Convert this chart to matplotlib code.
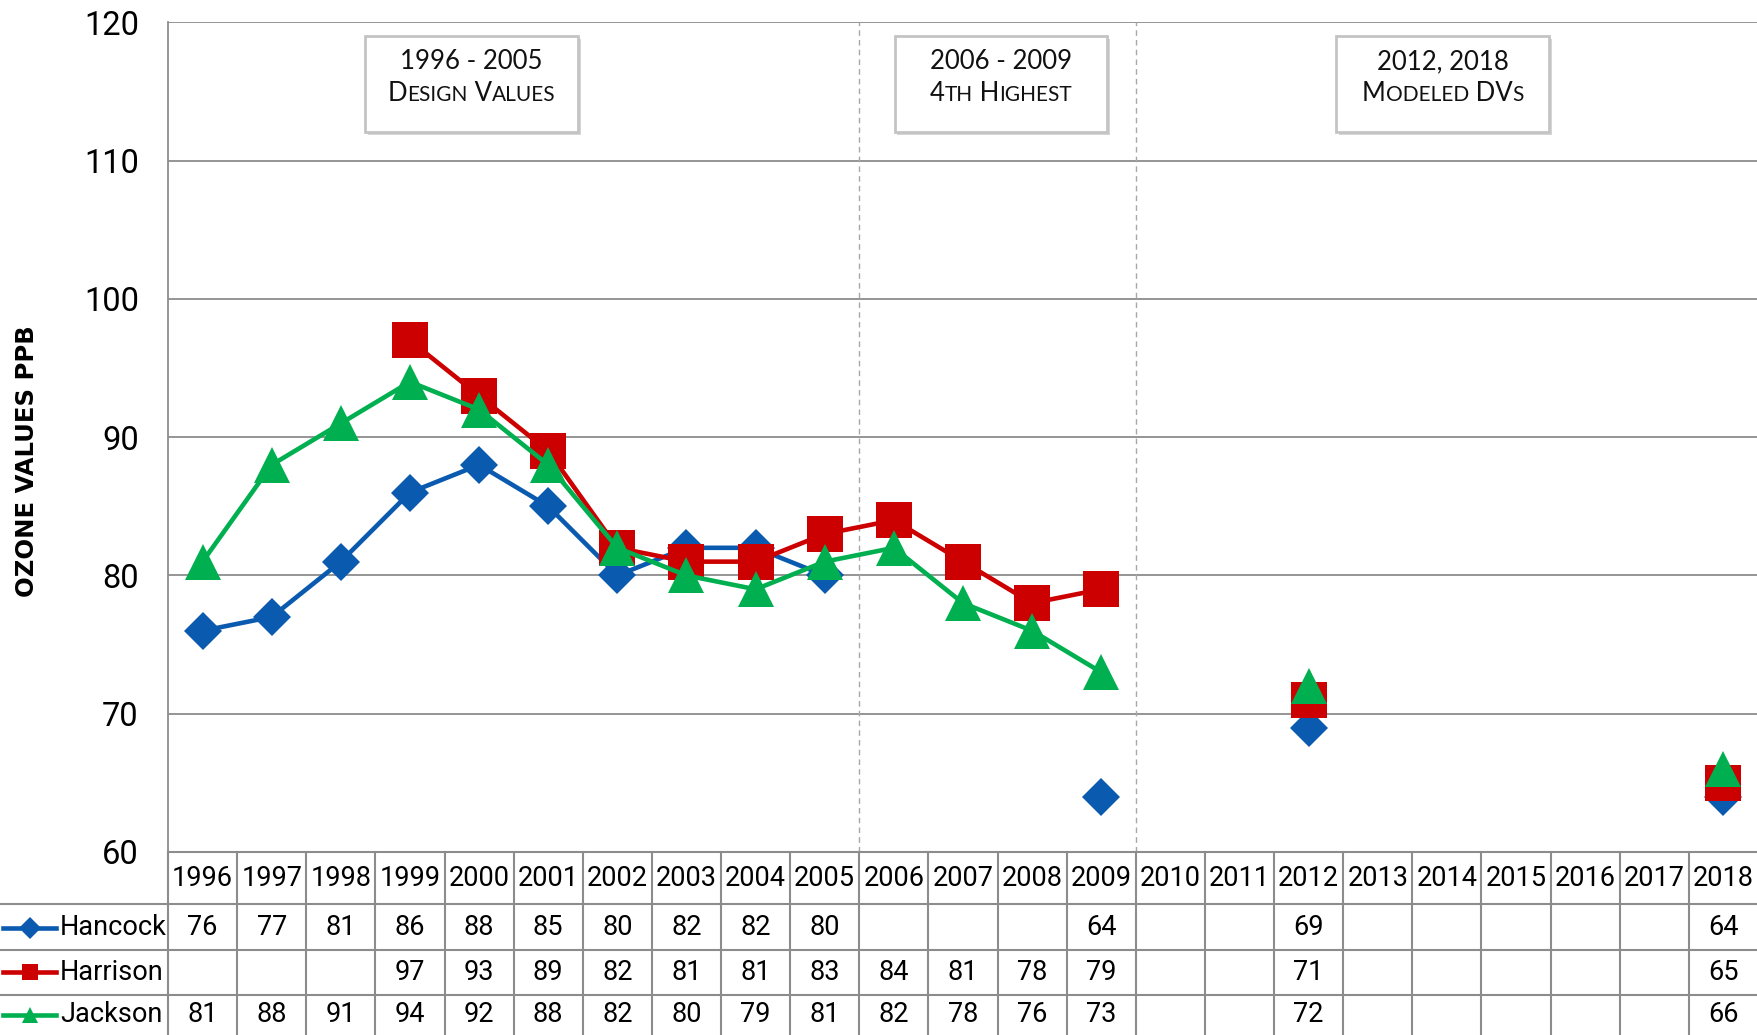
import numpy as np
import matplotlib
matplotlib.use("Agg")
import matplotlib.pyplot as plt
from matplotlib.patches import Rectangle
from matplotlib.offsetbox import TextArea, HPacker, VPacker, AnnotationBbox
from matplotlib import patheffects as pe
from matplotlib.lines import Line2D

nan = np.nan
years = list(range(1996, 2019))
hancock = [76, 77, 81, 86, 88, 85, 80, 82, 82, 80, nan, nan, nan, 64, nan, nan, 69, nan, nan, nan, nan, nan, 64]
harrison = [nan, nan, nan, 97, 93, 89, 82, 81, 81, 83, 84, 81, 78, 79, nan, nan, 71, nan, nan, nan, nan, nan, 65]
jackson = [81, 88, 91, 94, 92, 88, 82, 80, 79, 81, 82, 78, 76, 73, nan, nan, 72, nan, nan, nan, nan, nan, 66]
series_names = ["Hancock", "Harrison", "Jackson"]
yticks = [60, 70, 80, 90, 100, 110, 120]
period_breaks = [2005.5, 2009.5]
box_titles = [("1996 - 2005", [("D", 1), ("ESIGN", 0), (" V", 1), ("ALUES", 0)], 1999.89),
              ("2006 - 2009", [("4", 1), ("TH", 0), (" H", 1), ("IGHEST", 0)], 2007.55),
              ("2012, 2018", [("M", 1), ("ODELED", 0), (" DV", 1), ("S", 0)], 2013.94)]

colors = ["#0A5BB0", "#CC0000", "#00B050"]
markers = ["D", "s", "^"]
msizes = [19.5, 25.5, 26.5]

W, H = 1758, 1035
fig = plt.figure(figsize=(W / 100, H / 100), dpi=100)
left_px, top_px, tab_top = 168, 22.4, 852
ax = fig.add_axes([left_px / W, (H - tab_top) / H, (W - left_px) / W, (tab_top - top_px) / H])
ax.set_xlim(years[0] - 0.5, years[-1] + 0.5)
ax.set_ylim(60, 120)
ax.set_yticks(yticks)
ax.set_xticks([])
grid_c = "#8C8C8C"
for yv in yticks:
    ax.axhline(yv, color=grid_c, lw=1.3, zorder=1)
for s in ["top", "right", "bottom"]:
    ax.spines[s].set_visible(False)
ax.spines["left"].set_color(grid_c)
ax.spines["left"].set_linewidth(1.3)
ax.tick_params(axis="y", length=0, pad=21, labelsize=23.5)
for lab in ax.get_yticklabels():
    lab.set_fontfamily(["Roboto", "DejaVu Sans"])
for xb in period_breaks:
    ax.axvline(xb, color="#A8A8A8", lw=1.0, ls=(0, (4, 3)), zorder=1)

data = [hancock, harrison, jackson]
for vals, c, m, ms, name in zip(data, colors, markers, msizes, series_names):
    ax.plot(years, vals, color=c, lw=3.3, marker=m, markersize=ms, markeredgewidth=0,
            zorder=3, label=name, clip_on=False)

# Annotation boxes
for title, pieces, xc in box_titles:
    rect = Rectangle((xc - 3.08 / 2, 115.54 - 6.97 / 2), 3.08, 6.97, facecolor="white",
                     edgecolor="#C4C4C4", lw=2, zorder=4)
    rect.set_path_effects([pe.SimplePatchShadow(offset=(2, -2), shadow_rgbFace="#888888", alpha=0.35), pe.Normal()])
    ax.add_patch(rect)
    fam = ["Lato", "DejaVu Sans"]
    t1 = TextArea(title, textprops=dict(fontsize=18.5, family=fam, color="#111111"))
    parts = [TextArea(txt, textprops=dict(fontsize=18.5 if big else 15, family=fam, color="#111111"))
             for txt, big in pieces]
    hp = HPacker(children=parts, align="baseline", pad=0, sep=0)
    vp = VPacker(children=[t1, hp], align="center", pad=0, sep=5)
    ab = AnnotationBbox(vp, (xc, 116.0), xycoords="data", frameon=False, box_alignment=(0.5, 0.5), zorder=5)
    ax.add_artist(ab)

fig.text(27 / W, 1 - 461 / H, "OZONE VALUES PPB", rotation=90, ha="center", va="center",
         fontsize=17.5, fontweight="bold", family=["DejaVu Sans"])

# Data table
axt = fig.add_axes([left_px / W, 0, (W - left_px) / W, (H - tab_top) / H])
axt.set_xlim(years[0] - 0.5, years[-1] + 0.5)
tab_h = H - tab_top
axt.set_ylim(tab_h, 0)
axt.axis("off")
row_edges = [0, 52, 98, 142.5]
row_centers = [27, 75.5, 120, 163]
lfrac = -left_px / (W - left_px)
tc = "#8C8C8C"
for i, ye in enumerate(row_edges):
    x0 = 0 if i == 0 else lfrac
    axt.plot([x0, 1], [ye, ye], color=tc, lw=1.5, transform=axt.get_yaxis_transform(), clip_on=False)
for k in range(len(years) + 1):
    xv = years[0] - 0.5 + k
    axt.plot([xv, xv], [0, tab_h], color=tc, lw=1.5, clip_on=False)
tfam = ["Roboto", "DejaVu Sans"]
for yr in years:
    axt.text(yr, row_centers[0], str(yr), ha="center", va="center", fontsize=19.5, family=tfam)
for r, (vals, c, m, name) in enumerate(zip(data, colors, markers, series_names)):
    yc = row_centers[r + 1]
    for yr, v in zip(years, vals):
        if not np.isnan(v):
            axt.text(yr, yc, f"{int(v)}", ha="center", va="center", fontsize=19.5, family=tfam)
    trans = axt.get_yaxis_transform()
    ln = Line2D([lfrac + 3 / (W - left_px), lfrac + 56 / (W - left_px)], [yc, yc], color=c, lw=3.3,
                transform=trans, clip_on=False)
    axt.add_line(ln)
    mk = Line2D([lfrac + 29.5 / (W - left_px)], [yc], color=c, marker=m, markersize=11,
                markeredgewidth=0, transform=trans, clip_on=False)
    axt.add_line(mk)
    axt.text(lfrac + 60 / (W - left_px), yc, name, ha="left", va="center", fontsize=19.5,
             family=tfam, transform=trans)

fig.savefig("out.png", dpi=100)
